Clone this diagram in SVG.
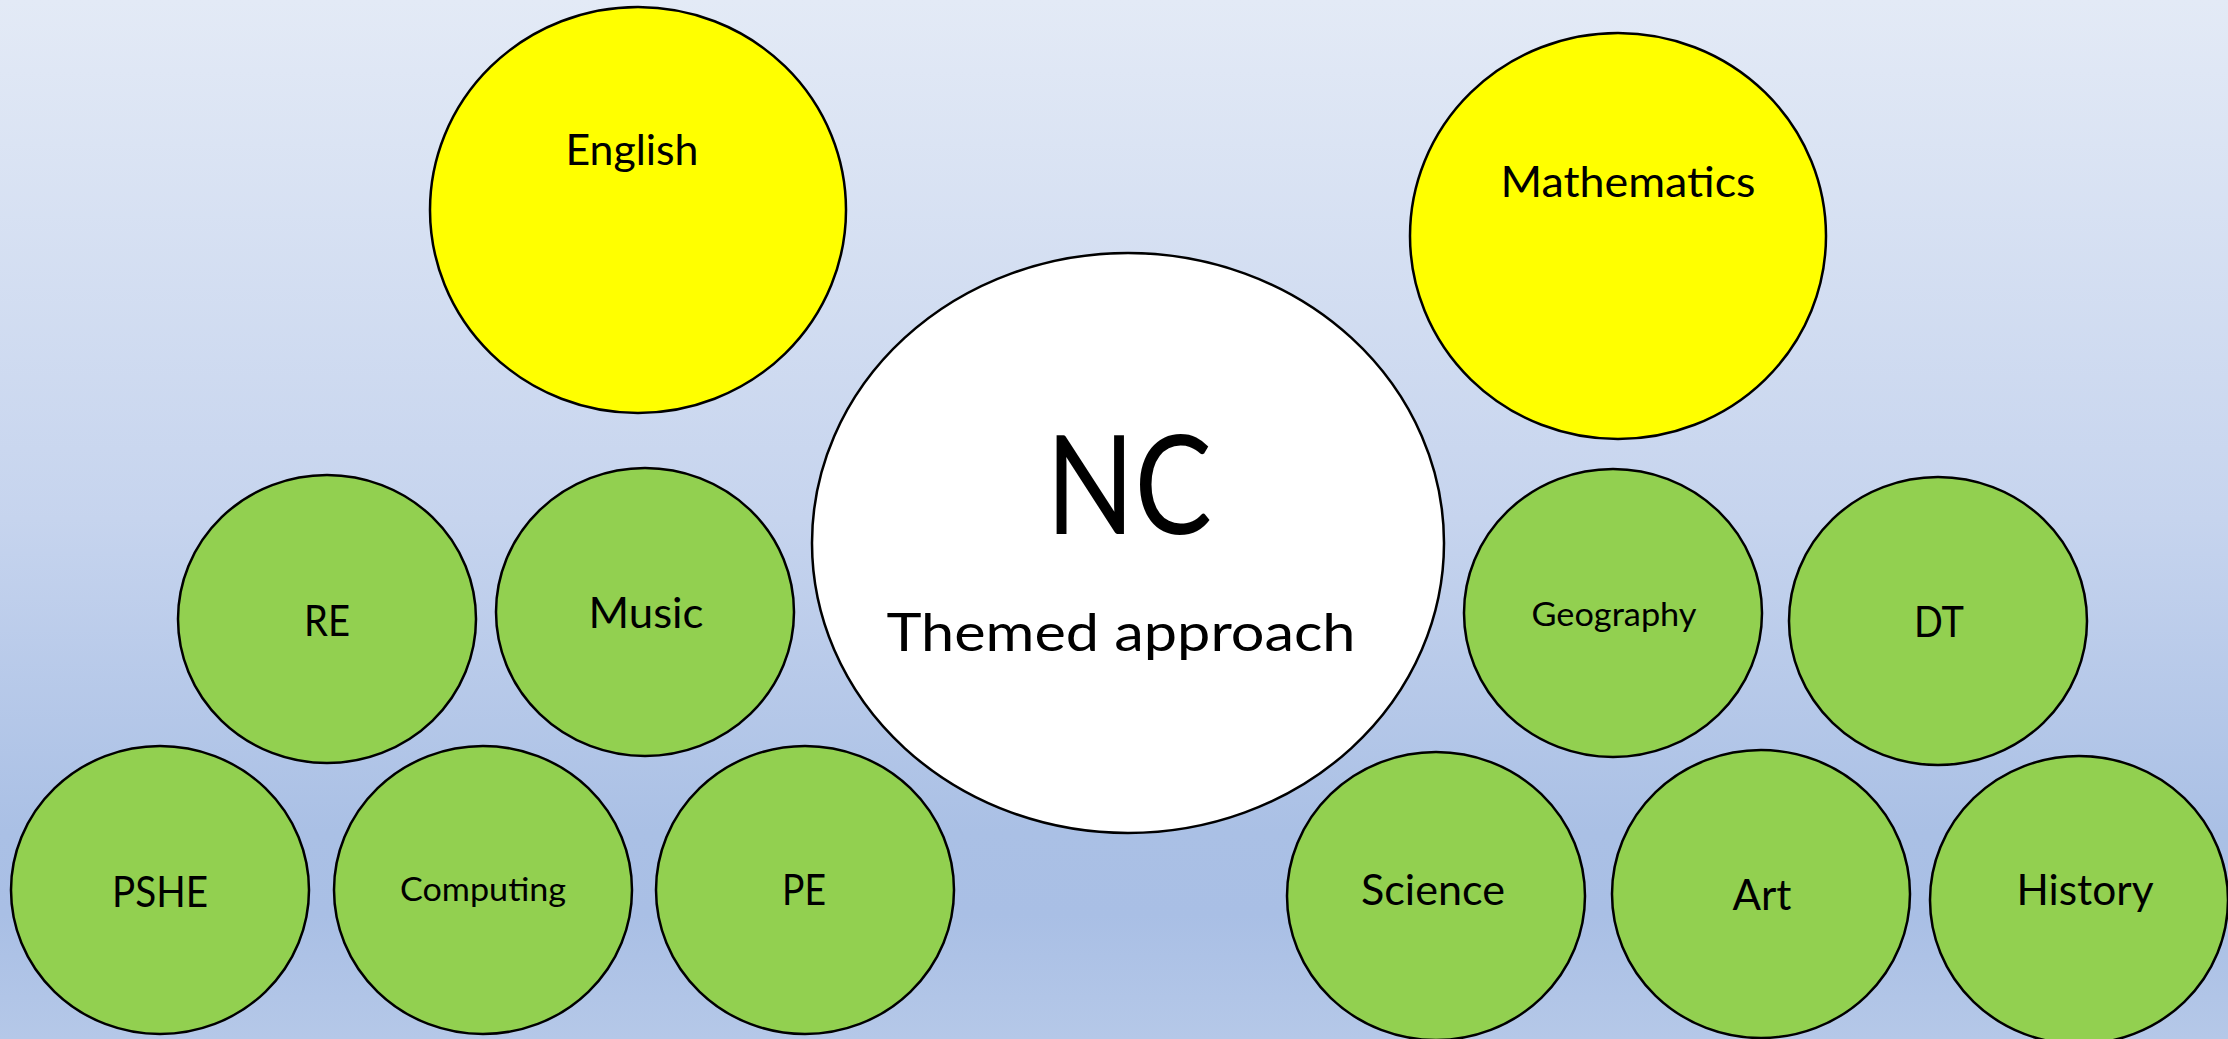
<svg xmlns="http://www.w3.org/2000/svg" width="2228" height="1039" viewBox="0 0 2228 1039">
<defs>
<linearGradient id="bg" x1="0" y1="0" x2="0" y2="1">
<stop offset="0" stop-color="#E3EAF6"/>
<stop offset="0.5" stop-color="#C6D4EE"/>
<stop offset="0.8" stop-color="#AAC0E5"/>
<stop offset="0.88" stop-color="#A9BFE5"/>
<stop offset="1" stop-color="#B5C8E8"/>
</linearGradient>
</defs>
<style>
.n{stroke:#000;stroke-width:2.5}
.y{fill:#FFFF00}
.g{fill:#92D050}
.w{fill:#FFFFFF}
text{font-family:Lato,"Open Sans","Liberation Sans",sans-serif;fill:#000;text-anchor:middle}
.t{font-size:42px}
.s{font-size:32px}
</style>
<rect width="2228" height="1039" fill="url(#bg)"/>
<g id="connectors"></g>
<g id="english"><ellipse class="n y" cx="638" cy="210" rx="208" ry="203"/><text class="t" x="632" y="165" textLength="133" lengthAdjust="spacingAndGlyphs">English</text></g>
<g id="mathematics"><ellipse class="n y" cx="1618" cy="236" rx="208" ry="203"/><text class="t" x="1628" y="197" textLength="255" lengthAdjust="spacingAndGlyphs">Mathematics</text></g>
<g id="nc"><ellipse class="n w" cx="1128" cy="543" rx="316" ry="290"/><text x="1129" y="534" style="font-size:137px" textLength="166" lengthAdjust="spacingAndGlyphs">NC</text><text x="1121" y="651" style="font-size:53px" textLength="469" lengthAdjust="spacingAndGlyphs">Themed approach</text></g>
<g id="re"><ellipse class="n g" cx="327" cy="619" rx="149" ry="144"/><text class="t" x="327" y="636" textLength="46" lengthAdjust="spacingAndGlyphs">RE</text></g>
<g id="music"><ellipse class="n g" cx="645" cy="612" rx="149" ry="144"/><text class="t" x="646" y="628" textLength="115" lengthAdjust="spacingAndGlyphs">Music</text></g>
<g id="pshe"><ellipse class="n g" cx="160" cy="890" rx="149" ry="144"/><text class="t" x="160" y="907" textLength="96" lengthAdjust="spacingAndGlyphs">PSHE</text></g>
<g id="computing"><ellipse class="n g" cx="483" cy="890" rx="149" ry="144"/><text class="s" x="483" y="901" textLength="166" lengthAdjust="spacingAndGlyphs">Computing</text></g>
<g id="pe"><ellipse class="n g" cx="805" cy="890" rx="149" ry="144"/><text class="t" x="804" y="905" textLength="44" lengthAdjust="spacingAndGlyphs">PE</text></g>
<g id="geography"><ellipse class="n g" cx="1613" cy="613" rx="149" ry="144"/><text class="s" x="1614" y="626" textLength="165" lengthAdjust="spacingAndGlyphs">Geography</text></g>
<g id="dt"><ellipse class="n g" cx="1938" cy="621" rx="149" ry="144"/><text class="t" x="1939" y="637" textLength="50" lengthAdjust="spacingAndGlyphs">DT</text></g>
<g id="science"><ellipse class="n g" cx="1436" cy="896" rx="149" ry="144"/><text class="t" x="1433" y="905" textLength="144" lengthAdjust="spacingAndGlyphs">Science</text></g>
<g id="art"><ellipse class="n g" cx="1761" cy="894" rx="149" ry="144"/><text class="t" x="1762" y="910" textLength="59" lengthAdjust="spacingAndGlyphs">Art</text></g>
<g id="history"><ellipse class="n g" cx="2079" cy="900" rx="149" ry="144"/><text class="t" x="2085" y="905" textLength="137" lengthAdjust="spacingAndGlyphs">History</text></g>
</svg>
